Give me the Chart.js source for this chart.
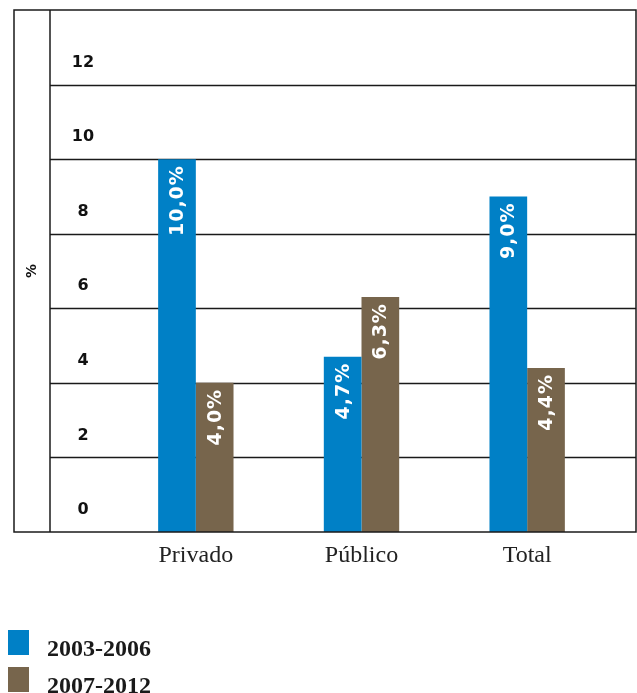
<!DOCTYPE html>
<html>
<head>
<meta charset="utf-8">
<script src="https://cdn.jsdelivr.net/npm/chart.js@4.4.1/dist/chart.umd.min.js"></script>
<style>
  html, body { margin: 0; padding: 0; background: #fff; }
  #wrap { width: 637px; height: 693px; }
</style>
</head>
<body>
<div id="wrap"><canvas id="grafico" width="637" height="693"></canvas></div>
<script>
const categorias = ["Privado", "Público", "Total"];
const periodo1 = [10.0, 4.7, 9.0];   // 2003-2006
const periodo2 = [4.0, 6.3, 4.4];    // 2007-2012
const series = ["2003-2006", "2007-2012"];
const ticksY = [0, 2, 4, 6, 8, 10, 12];
const colores = ["#0080C6", "#77654C"];

const caja = { left: 14, right: 636, divisor: 50 };

// --- Marco, cuadrícula y etiquetas ---
const marco = {
  id: "marco",
  beforeDatasetsDraw(chart) {
    const { ctx, scales: { y } } = chart;
    ctx.save();
    ctx.strokeStyle = "#1a1a1a";
    ctx.lineWidth = 1.5;
    ticksY.forEach(v => {
      if (v === 0) return;
      const py = Math.round(y.getPixelForValue(v)) + 0.5;
      ctx.beginPath();
      ctx.moveTo(caja.divisor, py);
      ctx.lineTo(caja.right, py);
      ctx.stroke();
    });
    ctx.restore();
  },
  afterDatasetsDraw(chart) {
    const { ctx, chartArea, scales: { x, y } } = chart;
    ctx.save();
    ctx.strokeStyle = "#1a1a1a";
    ctx.lineWidth = 1.5;
    ctx.strokeRect(caja.left, chartArea.top, caja.right - caja.left, chartArea.bottom - chartArea.top);
    ctx.beginPath();
    ctx.moveTo(caja.divisor, chartArea.top);
    ctx.lineTo(caja.divisor, chartArea.bottom);
    ctx.stroke();

    // ticks del eje y
    ctx.fillStyle = "#111";
    ctx.font = "bold 16px 'DejaVu Sans'";
    ctx.textAlign = "center";
    ctx.textBaseline = "middle";
    ticksY.forEach(v => {
      ctx.fillText(String(v), 83, y.getPixelForValue(v) - 22);
    });

    // título del eje y
    ctx.save();
    ctx.translate(32, (chartArea.top + chartArea.bottom) / 2);
    ctx.rotate(-Math.PI / 2);
    ctx.font = "bold 14px 'DejaVu Sans'";
    ctx.fillText("%", 0, 0);
    ctx.restore();

    // valores dentro de las barras
    ctx.fillStyle = "#fff";
    ctx.font = "bold 19px 'DejaVu Sans'";
    ctx.letterSpacing = "1px";
    ctx.textAlign = "right";
    chart.data.datasets.forEach((ds, i) => {
      chart.getDatasetMeta(i).data.forEach((bar, j) => {
        const txt = ds.data[j].toFixed(1).replace(".", ",") + "%";
        ctx.save();
        ctx.translate(bar.x, bar.y + 6);
        ctx.rotate(-Math.PI / 2);
        ctx.fillText(txt, 0, 1);
        ctx.restore();
      });
    });
    ctx.letterSpacing = "0px";

    // categorías
    ctx.fillStyle = "#222";
    ctx.font = "24px 'Liberation Serif'";
    ctx.textAlign = "center";
    ctx.textBaseline = "alphabetic";
    categorias.forEach((c, i) => {
      ctx.fillText(c, x.getPixelForValue(i), 562);
    });

    // leyenda
    ctx.font = "bold 24px 'Liberation Serif'";
    ctx.textAlign = "left";
    series.forEach((s, i) => {
      const top = 630 + i * 37;
      ctx.fillStyle = colores[i];
      ctx.fillRect(8, top, 21, 25);
      ctx.fillStyle = "#1a1a1a";
      ctx.fillText(s, 47, top + 26);
    });
    ctx.restore();
  }
};

new Chart(document.getElementById("grafico"), {
  type: "bar",
  data: {
    labels: categorias,
    datasets: series.map((s, i) => ({
      label: s,
      data: i === 0 ? periodo1 : periodo2,
      backgroundColor: colores[i],
      barPercentage: 1,
      categoryPercentage: 0.455
    }))
  },
  options: {
    responsive: false,
    animation: false,
    layout: { padding: { top: 10, bottom: 161, left: 113, right: 27 } },
    plugins: {
      legend: { display: false },
      tooltip: { enabled: false }
    },
    scales: {
      x: { display: false },
      y: { display: false, min: 0, max: 14 }
    }
  },
  plugins: [marco]
});
</script>
</body>
</html>
